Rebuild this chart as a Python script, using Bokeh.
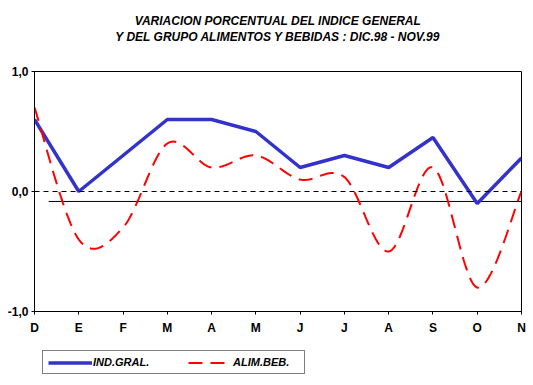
from bokeh.plotting import figure
from bokeh.layouts import column
from bokeh.models import (Span, Title, Legend, LegendItem, FixedTicker)
from bokeh.embed import file_html
from bokeh.resources import INLINE
import numpy as np

# ---- data ----
months = ["D", "E", "F", "M", "A", "M", "J", "J", "A", "S", "O", "N"]
ind_gral = [0.6, 0.0, 0.3, 0.6, 0.6, 0.5, 0.2, 0.3, 0.2, 0.45, -0.1, 0.28]
alim_beb = [0.7, -0.4, -0.3, 0.4, 0.2, 0.3, 0.1, 0.12, -0.5, 0.2, -0.8, 0.0]
y_ticks = [-1.0, 0.0, 1.0]
y_tick_labels = ["-1,0", "0,0", "1,0"]
series_names = ["IND.GRAL.", "ALIM.BEB."]
ref_level = -0.083          # solid reference line value
ref_start = 0.32            # month position where the reference line begins
title_line1 = "VARIACION PORCENTUAL DEL INDICE GENERAL"
title_line2 = "Y DEL GRUPO ALIMENTOS Y BEBIDAS : DIC.98 - NOV.99"

FONT = "Liberation Sans"
BLUE = "#3333CC"
RED = "#FF0000"
BLUE_W = 3.5
RED_W = 2
RED_DASH = "14 8"

x = list(range(len(months)))


def smooth(xs, ys, n=40):
    """Excel-like smoothed line (Catmull-Rom via cubic Bezier)."""
    xs = np.asarray(xs, float)
    ys = np.asarray(ys, float)
    px, py = [], []
    m = len(xs)
    for i in range(m - 1):
        i0 = max(i - 1, 0)
        i3 = min(i + 2, m - 1)
        p0 = np.array([xs[i0], ys[i0]])
        p1 = np.array([xs[i], ys[i]])
        p2 = np.array([xs[i + 1], ys[i + 1]])
        p3 = np.array([xs[i3], ys[i3]])
        c1 = p1 + (p2 - p0) / 6.0
        c2 = p2 - (p3 - p1) / 6.0
        t = np.linspace(0, 1, n, endpoint=(i == m - 2))
        b = ((1 - t) ** 3)[:, None] * p1 + (3 * (1 - t) ** 2 * t)[:, None] * c1 \
            + (3 * (1 - t) * t ** 2)[:, None] * c2 + (t ** 3)[:, None] * p2
        px.extend(b[:, 0])
        py.extend(b[:, 1])
    return px, py


sx, sy = smooth(x, alim_beb)

p = figure(output_backend="svg", toolbar_location=None,
           frame_width=487, frame_height=240,
           x_range=(0, len(months) - 1), y_range=(-1, 1),
           min_border_left=34, min_border_right=10,
           min_border_top=71, min_border_bottom=25,
           background_fill_color="white", border_fill_color="white")

p.outline_line_color = "black"
p.outline_line_width = 1
p.xgrid.visible = False
p.ygrid.visible = False

# titles (first added is nearest the frame)
spacer = Title(text=" ", text_font_size="1px", standoff=25)
t2 = Title(text=title_line2, align="center", offset=-13, standoff=0,
           text_font=FONT, text_font_size="12px", text_font_style="bold italic",
           text_color="black")
t1 = Title(text=title_line1, align="center", offset=-13, standoff=0,
           text_font=FONT, text_font_size="12px", text_font_style="bold italic",
           text_color="black")
p.add_layout(spacer, "above")
p.add_layout(t2, "above")
p.add_layout(t1, "above")

# axes
p.xaxis.ticker = FixedTicker(ticks=x)
p.xaxis.major_label_overrides = {i: m for i, m in enumerate(months)}
p.yaxis.ticker = FixedTicker(ticks=y_ticks)
p.yaxis.major_label_overrides = {v: s for v, s in zip(y_ticks, y_tick_labels)}
for ax in (p.xaxis, p.yaxis):
    ax.axis_line_color = "black"
    ax.axis_line_width = 1
    ax.major_tick_line_color = "black"
    ax.major_tick_in = 0
    ax.major_tick_out = 3
    ax.minor_tick_line_color = None
    ax.major_label_text_font = FONT
    ax.major_label_text_font_size = "12px"
    ax.major_label_text_font_style = "bold"
    ax.major_label_text_color = "black"
p.xaxis.major_label_standoff = 6
p.yaxis.major_label_standoff = 3

# zero dashed line
p.add_layout(Span(location=0, dimension="width", line_color="black",
                  line_width=1, line_dash="5 4"))
# solid reference line
p.segment(x0=[ref_start], y0=[ref_level], x1=[len(months) - 1], y1=[ref_level],
          line_color="black", line_width=1)

p.line(x, ind_gral, line_color=BLUE, line_width=BLUE_W)
p.line(sx, sy, line_color=RED, line_width=RED_W, line_dash=RED_DASH)

# ---- legend strip below the chart (series drawn out of view; only the key shows) ----
lg = figure(output_backend="svg", toolbar_location=None,
            frame_width=531, frame_height=47,
            x_range=(100, 101), y_range=(100, 101),
            x_axis_location=None, y_axis_location=None,
            min_border_left=0, min_border_right=0,
            min_border_top=0, min_border_bottom=0,
            background_fill_color="white", border_fill_color="white")
lg.outline_line_color = None
lg.xgrid.visible = False
lg.ygrid.visible = False
lb = lg.line(x, ind_gral, line_color=BLUE, line_width=BLUE_W)
lr = lg.line(sx, sy, line_color=RED, line_width=RED_W, line_dash=RED_DASH)

legend = Legend(items=[LegendItem(label=series_names[0], renderers=[lb]),
                       LegendItem(label=series_names[1], renderers=[lr])],
                orientation="horizontal", location=(42, 10),
                border_line_color="black", border_line_width=1,
                background_fill_color="white", background_fill_alpha=1,
                label_text_font=FONT, label_text_font_size="11px",
                label_text_font_style="bold italic", label_text_color="black",
                glyph_width=44, glyph_height=11, label_height=11,
                label_width=66, label_standoff=1, spacing=29,
                padding=5, margin=0)
lg.add_layout(legend)

layout = column(p, lg, spacing=0)
open("out.html", "w").write(file_html(layout, INLINE))
